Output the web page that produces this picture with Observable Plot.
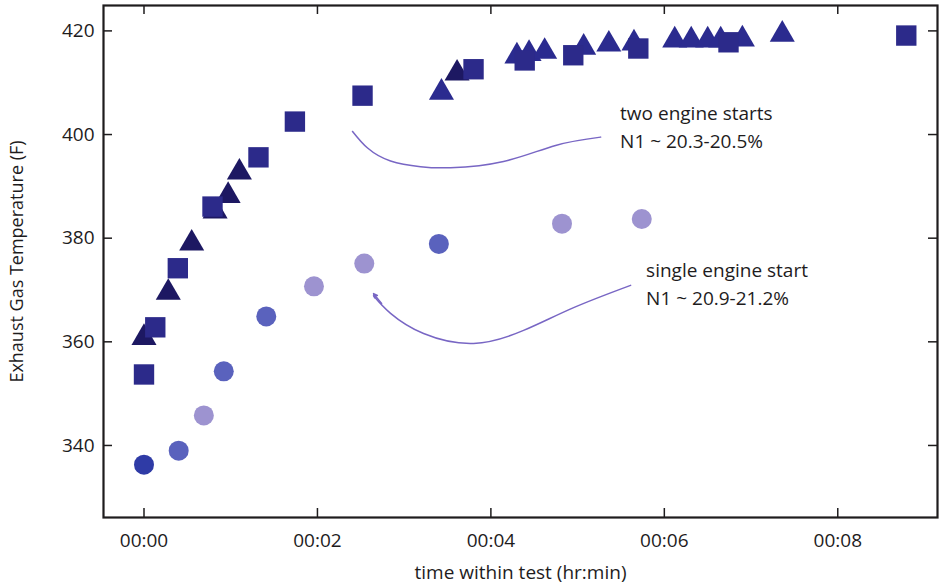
<!DOCTYPE html>
<html><head><meta charset="utf-8">
<script src="https://cdn.jsdelivr.net/npm/d3@7"></script>
<script src="https://cdn.jsdelivr.net/npm/@observablehq/plot@0.6"></script>
<style>
body{margin:0;background:#fff;font-family:"Open Sans",sans-serif}
g[aria-label="x-axis tick label"], g[aria-label="y-axis tick label"] { font-size: 19px !important; }
g[aria-label="x-axis label"] { font-size: 19px !important; }
g[aria-label="y-axis label"] { font-size: 18px !important; }
</style>
</head><body><div id="chart"></div>
<script>
// two engine starts — squares
const squareTime = [0, 0.13, 0.39, 0.79, 1.32, 1.74, 2.52, 3.80, 4.39, 4.95, 5.70, 6.74, 8.79];
const squareTemp = [353.7, 362.8, 374.2, 386.1, 395.6, 402.5, 407.5, 412.6, 414.3, 415.3, 416.6, 417.8, 419.1];
// two engine starts — triangles
const triTime = [0, 0.28, 0.55, 0.82, 0.97, 1.10, 3.43, 3.61, 4.30, 4.44, 4.62, 5.07, 5.36, 5.65, 6.12, 6.31, 6.50, 6.65, 6.90, 7.36];
const triTemp = [360.8, 369.5, 379.0, 385.2, 388.2, 392.7, 408.1, 411.8, 415.1, 415.6, 416.0, 416.8, 417.4, 417.6, 418.2, 418.2, 418.2, 418.2, 418.4, 419.3];
const triRun  = ["tA","tA","tA","tA","tA","tA","tB","tA","tB","tB","tB","tB","tB","tB","tB","tB","tB","tB","tB","tB"];
// single engine start — circles
const circleTime = [0, 0.40, 0.69, 0.92, 1.41, 1.96, 2.54, 3.40, 4.82, 5.74];
const circleTemp = [336.3, 339.0, 345.8, 354.3, 364.9, 370.7, 375.1, 378.9, 382.8, 383.7];
const circleRun  = ["c1","c2","c3","c2","c2","c3","c3","c2","c3","c3"];

const runKeys   = ["sq", "tA", "tB", "c1", "c2", "c3"];
const runColors = ["#2c2a8a", "#1d1862", "#2b2b8f", "#2f3ba6", "#5a62bd", "#9d93d0"];

const xTicks = [0, 2, 4, 6, 8];
const yTicks = [340, 360, 380, 400, 420];

// annotation callouts
const noteText = ["two engine starts\nN1 ~ 20.3-20.5%", "single engine start\nN1 ~ 20.9-21.2%"];
const noteTime = [5.49, 5.79];
const noteTemp = [401.9, 371.6];
const twoCurveTime = [2.405, 2.578, 2.843, 3.189, 3.535, 4.146, 4.746, 5.265];
const twoCurveTemp = [400.6, 397.4, 394.9, 393.8, 393.6, 394.8, 397.9, 399.5];
const oneCurveTime = [2.647, 2.843, 3.224, 3.800, 4.377, 4.954, 5.611];
const oneCurveTemp = [368.9, 365.5, 361.6, 359.7, 362.2, 366.6, 370.9];
const arrowFrom = {t: 2.74, v: 367.4};
const arrowTo   = {t: 2.647, v: 369.3};

const zip = (ts, vs, rs) => ts.map((t, i) => ({t, v: vs[i], run: rs ? rs[i] : "sq"}));
const squares = zip(squareTime, squareTemp);
const triangles = zip(triTime, triTemp, triRun);
const circles = zip(circleTime, circleTemp, circleRun);
const notes = noteText.map((s, i) => ({s, t: noteTime[i], v: noteTemp[i]}));
const twoCurve = zip(twoCurveTime, twoCurveTemp);
const oneCurve = zip(oneCurveTime, oneCurveTemp);

const W = 939, H = 583, mL = 103, mR = 2, mT = 5, mB = 66;
const innerW = W - mL - mR, innerH = H - mT - mB, tk = 9;
const fmt = d => "00:" + String(d).padStart(2, "0");
const ink = "#1e1c1d";
const curveColor = "#7866c4";

const chart = Plot.plot({
  width: W, height: H,
  marginLeft: mL, marginRight: mR, marginTop: mT, marginBottom: mB,
  style: {fontFamily: '"Open Sans", sans-serif', fontSize: "19px", color: ink, background: "#fff"},
  x: {domain: [-0.467, 9.15]},
  y: {domain: [326.1, 424.9]},
  color: {domain: runKeys, range: runColors},
  marks: [
    Plot.tickX(xTicks, {x: d => d, insetTop: innerH - tk, stroke: ink, strokeWidth: 1.5}),
    Plot.tickX(xTicks, {x: d => d, insetBottom: innerH - tk, stroke: ink, strokeWidth: 1.5}),
    Plot.tickY(yTicks, {y: d => d, insetRight: innerW - tk, stroke: ink, strokeWidth: 1.5}),
    Plot.tickY(yTicks, {y: d => d, insetLeft: innerW - tk, stroke: ink, strokeWidth: 1.5}),
    Plot.frame({stroke: ink, strokeWidth: 2.2}),
    Plot.line(twoCurve, {x: "t", y: "v", curve: "natural", stroke: curveColor, strokeWidth: 1.5}),
    Plot.line(oneCurve, {x: "t", y: "v", curve: "natural", stroke: curveColor, strokeWidth: 1.5}),
    Plot.arrow([{a: arrowFrom, b: arrowTo}], {x1: d => d.a.t, y1: d => d.a.v, x2: d => d.b.t, y2: d => d.b.v, stroke: curveColor, strokeWidth: 1.5, headLength: 9, headAngle: 50}),
    Plot.dot(circles, {x: "t", y: "v", fill: "run", r: 10, symbol: "circle"}),
    Plot.dot(triangles, {x: "t", y: "v", fill: "run", r: 9.3, symbol: "triangle"}),
    Plot.dot(squares, {x: "t", y: "v", fill: "run", r: 11.5, symbol: "square"}),
    Plot.text(notes, {x: "t", y: "v", text: "s", textAnchor: "start", lineHeight: 1.52, fontSize: 19, fill: ink}),
    Plot.axisX({ticks: xTicks, tickSize: 0, tickPadding: 16, tickFormat: fmt, label: "time within test (hr:min)", labelAnchor: "center", labelArrow: "none", labelOffset: 61, fontSize: 19, fill: ink}),
    Plot.axisY({ticks: yTicks, tickSize: 0, tickPadding: 9, label: "Exhaust Gas Temperature (F)", labelAnchor: "center", labelArrow: "none", labelOffset: 93, fontSize: 18, fill: ink})
  ]
});
document.getElementById("chart").appendChild(chart);
</script>
</body></html>
